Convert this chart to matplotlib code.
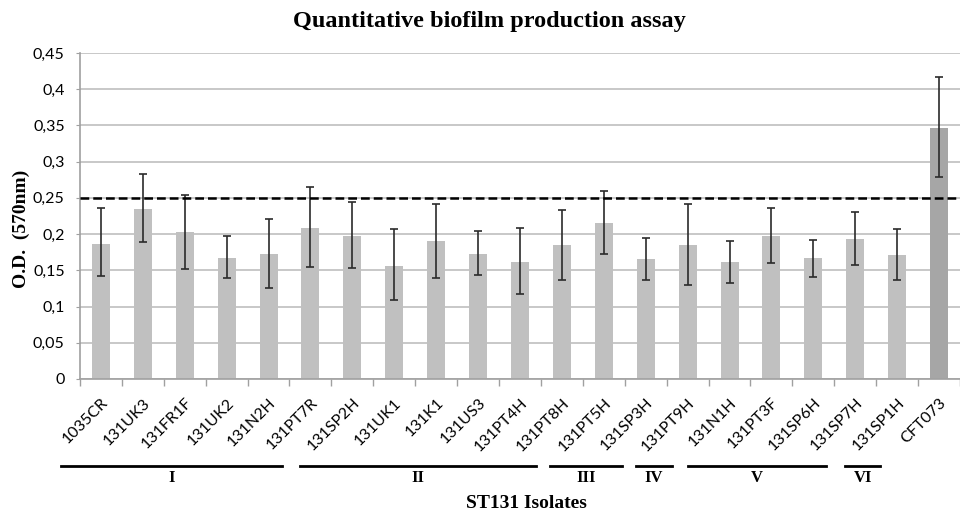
import matplotlib
matplotlib.use("Agg")
import matplotlib.pyplot as plt
import matplotlib.transforms as mtransforms
import numpy as np

isolates = ["1035CR", "131UK3", "131FR1F", "131UK2", "131N2H", "131PT7R", "131SP2H",
            "131UK1", "131K1", "131US3", "131PT4H", "131PT8H", "131PT5H", "131SP3H",
            "131PT9H", "131N1H", "131PT3F", "131SP6H", "131SP7H", "131SP1H", "CFT073"]
od_mean = [0.187, 0.235, 0.203, 0.167, 0.172, 0.208, 0.197, 0.156, 0.190, 0.173, 0.162,
           0.185, 0.215, 0.165, 0.185, 0.161, 0.197, 0.167, 0.193, 0.171, 0.346]
od_upper = [0.236, 0.2825, 0.254, 0.197, 0.221, 0.265, 0.244, 0.207, 0.242, 0.204, 0.209,
            0.233, 0.260, 0.194, 0.241, 0.191, 0.236, 0.192, 0.230, 0.207, 0.417]
od_lower = [0.142, 0.189, 0.152, 0.139, 0.126, 0.154, 0.153, 0.109, 0.139, 0.144, 0.118,
            0.137, 0.173, 0.137, 0.130, 0.133, 0.160, 0.141, 0.158, 0.136, 0.279]
threshold = 0.25
yticks = [0, 0.05, 0.1, 0.15, 0.2, 0.25, 0.3, 0.35, 0.4, 0.45]
ytick_labels = ["0", "0,05", "0,1", "0,15", "0,2", "0,25", "0,3", "0,35", "0,4", "0,45"]
group_names = ["I", "II", "III", "IV", "V", "VI"]

# layout of the group brackets (in category units)
group_spans = [(-0.95, 4.33), (4.76, 10.38), (10.71, 12.43), (12.76, 13.62), (14.0, 17.31), (17.76, 18.6)]

serif = "Liberation Serif"
sans = "Lato"

fig = plt.figure(figsize=(9.6, 5.12), dpi=100)
ax = fig.add_axes([0.0833, 0.2598, 0.9167, 0.6367])

x = np.arange(len(isolates))
mean = np.array(od_mean)
yerr = np.vstack([mean - np.array(od_lower), np.array(od_upper) - mean])
colors = ["#c0c0c0"] * (len(isolates) - 1) + ["#a6a6a6"]

ax.bar(x, mean, width=0.43, color=colors, zorder=2)
ax.errorbar(x, mean, yerr=yerr, fmt="none", ecolor="#2b2b2b", elinewidth=1.2,
            capsize=3, capthick=1.2, zorder=3)
ax.axhline(threshold, color="black", linestyle=(0, (3.5, 1.6)), linewidth=1.8, zorder=4)

ax.set_xlim(-0.5, len(isolates) - 0.5)
ax.set_ylim(0, 0.45)
ax.set_yticks(yticks)
ax.set_yticklabels(ytick_labels, fontfamily=sans, fontsize=11.5)
ax.yaxis.grid(True, color="#c4c4c4", linewidth=1.3, zorder=0)
ax.set_axisbelow(True)
ax.tick_params(axis="y", length=3, color="#a0a0a0", pad=8)

ax.set_xticks(x)
ax.set_xticklabels(isolates, rotation=45, ha="right", va="top", rotation_mode="anchor",
                   fontfamily=sans, fontsize=11.5)
ax.tick_params(axis="x", which="major", length=0, pad=12)
ax.set_xticks(np.arange(-0.5, len(isolates), 1.0), minor=True)
ax.tick_params(axis="x", which="minor", length=5, color="#a0a0a0", width=1)

for s in ["top", "right"]:
    ax.spines[s].set_visible(False)
for s in ["left", "bottom"]:
    ax.spines[s].set_color("#a0a0a0")
    ax.spines[s].set_linewidth(1.2)

trans = mtransforms.blended_transform_factory(ax.transData, fig.transFigure)
line_y = 1 - 466 / 512
label_y = 1 - 478 / 512
for (a, b), name in zip(group_spans, group_names):
    ax.plot([a, b], [line_y, line_y], color="black", linewidth=2, transform=trans, clip_on=False)
    ax.text((a + b) / 2, label_y, name, transform=trans, ha="center", va="center",
            fontfamily=serif, fontweight="bold", fontsize=12)

fig.text(0.548, 1 - 503 / 512, "ST131 Isolates", ha="center", va="center",
         fontfamily=serif, fontweight="bold", fontsize=14)
fig.text(21 / 960, 1 - 229 / 512, "O.D.  (570nm)", ha="center", va="center", rotation=90,
         fontfamily=serif, fontweight="bold", fontsize=14)
fig.text(0.51, 1 - 22 / 512, "Quantitative biofilm production assay", ha="center", va="center",
         fontfamily=serif, fontweight="bold", fontsize=17.5)

fig.savefig("out.png", dpi=100)
